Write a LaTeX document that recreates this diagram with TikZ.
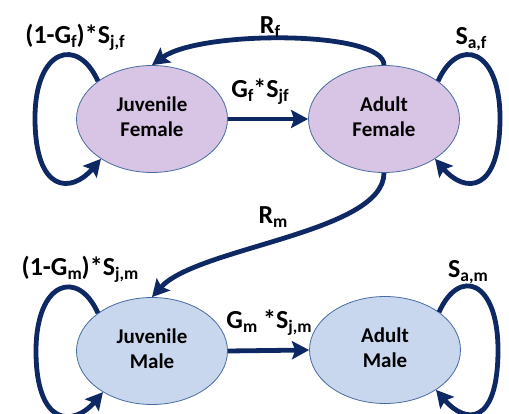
\documentclass[tikz,border=0pt]{standalone}
\usepackage{fontspec}
\setmainfont{Carlito}
\usetikzlibrary{arrows.meta,shapes.geometric}

\definecolor{flowblue}{RGB}{14,40,100}
\definecolor{femalefill}{RGB}{216,196,228}
\definecolor{malefill}{RGB}{200,214,238}
\definecolor{edgeblue}{RGB}{72,108,160}
\newcommand{\stagefont}{\fontsize{21pt}{25pt}\selectfont\bfseries}
\newcommand{\ratefont}{\fontsize{26pt}{28pt}\selectfont\bfseries}
\newcommand{\stagelabel}[2]{{\stagefont\begin{tabular}{@{}c@{}}#1\\#2\end{tabular}}}
\newcommand{\lsub}[1]{\raisebox{-4pt}{\fontsize{17.5pt}{17.5pt}\selectfont #1}}

\begin{document}
\begin{tikzpicture}[x=1pt, y=-1pt,
  stage/.style={ellipse, draw=edgeblue, line width=0.8pt, minimum width=151pt,
    minimum height=107pt, inner sep=0pt},
  flow/.style={draw=flowblue, line width=4.8pt,
    -{Stealth[length=17pt, width=18pt, inset=3pt]}},
  rate/.style={inner sep=0pt, execute at begin node=\ratefont}]
  \useasboundingbox (0,0) rectangle (509,414);

  % Life stages
  \node[stage, fill=femalefill] (jf) at (152,119) {\stagelabel{Juvenile}{Female}};
  \node[stage, fill=femalefill] (af) at (384,119) {\stagelabel{Adult}{Female}};
  \node[stage, fill=malefill] (jm) at (152,351) {\stagelabel{Juvenile}{Male}};
  \node[stage, fill=malefill] (am) at (385,350) {\stagelabel{Adult}{Male}};

  % Loop turning points
  \coordinate (jfl) at (35,118);
  \coordinate (afr) at (500,118);
  \coordinate (jml) at (36,351);
  \coordinate (amr) at (498,350);

  % Growth
  \draw[flow] (jf.east) -- (af.west);
  \draw[flow] (jm.east) -- (am.west);
  \node[rate] (gf) at (260,92) {G\lsub{f}*S\lsub{jf}};
  \node[rate] (gm) at (269,323) {G\lsub{m} *S\lsub{j,m}};

  % Recruitment
  \draw[flow] (af.north) .. controls +(0,-35) and +(48,-35) .. (jf.north);
  \draw[flow] (af.south) .. controls +(0,60) and +(45,-50) .. (jm.north);
  \node[rate] (rf) at (270,27) {R\lsub{f}};
  \node[rate] (rm) at (273,217) {R\lsub{m}};

  % Survival loops
  \draw[flow] (jf.145) .. controls +(-20,-45) and +(0,-70) .. (jfl)
    .. controls +(0,75) and +(-30,35) .. (jf.218);
  \draw[flow] (af.35) .. controls +(20,-45) and +(0,-70) .. (afr)
    .. controls +(0,75) and +(30,35) .. (af.322);
  \draw[flow] (jm.145) .. controls +(-20,-45) and +(0,-70) .. (jml)
    .. controls +(0,75) and +(-30,35) .. (jm.220);
  \draw[flow] (am.35) .. controls +(20,-45) and +(0,-70) .. (amr)
    .. controls +(0,75) and +(30,35) .. (am.322);

  \node[rate] (jfself) at (75,37) {(1-G\lsub{f})*S\lsub{j,f}};
  \node[rate] (afself) at (471,39) {S\lsub{a,f}};
  \node[rate] (jmself) at (80,269) {(1-G\lsub{m})*S\lsub{j,m}};
  \node[rate] (amself) at (468,272) {S\lsub{a,m}};
\end{tikzpicture}
\end{document}
